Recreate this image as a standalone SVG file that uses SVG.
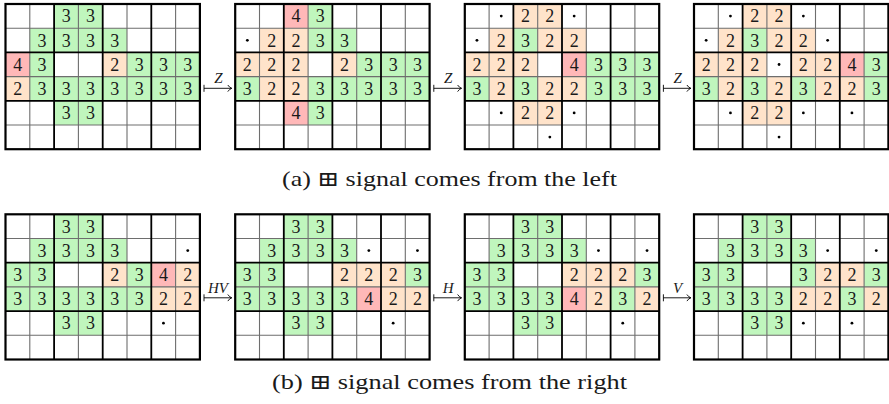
<svg xmlns="http://www.w3.org/2000/svg" xmlns:xlink="http://www.w3.org/1999/xlink" width="889" height="404" viewBox="0 0 889 404" font-family="'Liberation Serif', 'Times New Roman', 'DejaVu Serif', serif">
<style>
text{font-family:'Liberation Serif','Times New Roman','DejaVu Serif',serif;fill:#1a1a1a}
.n text{font-size:18px;text-anchor:middle}
.thin{fill:none;stroke:#6e6e6e;stroke-width:1.1}
.thick{fill:none;stroke:#000;stroke-width:1.8}
.bd{fill:none;stroke:#000;stroke-width:2.2}
.lbl{font-size:15px;font-style:italic;text-anchor:middle}
.cap{font-size:21px;text-anchor:middle}
.arr{fill:none;stroke:#000;stroke-width:0.9}
.dot{fill:#000}
</style>
<defs>
<rect id="G" width="24.3" height="24.2" fill="#c0f6bd"/>
<rect id="O" width="24.3" height="24.2" fill="#ffe3ca"/>
<rect id="R" width="24.3" height="24.2" fill="#ffb8b8"/>
<g id="L">
<path class="thin" d="M24.3,0V145.2M72.9,0V145.2M121.5,0V145.2M170.1,0V145.2M0,24.2H194.4M0,72.6H194.4M0,121H194.4"/>
<path class="thick" d="M48.6,0V145.2M97.2,0V145.2M145.8,0V145.2M0,48.4H194.4M0,96.8H194.4"/>
<rect class="bd" x="0" y="0" width="194.4" height="145.2"/>
</g>
</defs>

<g id="grid-a1" class="n" transform="translate(5.5,4)">
<use href="#G" x="48.6" y="0"/><use href="#G" x="72.9" y="0"/>
<use href="#G" x="24.3" y="24.2"/><use href="#G" x="48.6" y="24.2"/><use href="#G" x="72.9" y="24.2"/><use href="#G" x="97.2" y="24.2"/>
<use href="#R" x="0" y="48.4"/><use href="#G" x="24.3" y="48.4"/><use href="#O" x="97.2" y="48.4"/><use href="#G" x="121.5" y="48.4"/><use href="#G" x="145.8" y="48.4"/><use href="#G" x="170.1" y="48.4"/>
<use href="#O" x="0" y="72.6"/><use href="#G" x="24.3" y="72.6"/><use href="#G" x="48.6" y="72.6"/><use href="#G" x="72.9" y="72.6"/><use href="#G" x="97.2" y="72.6"/><use href="#G" x="121.5" y="72.6"/><use href="#G" x="145.8" y="72.6"/><use href="#G" x="170.1" y="72.6"/>
<use href="#G" x="48.6" y="96.8"/><use href="#G" x="72.9" y="96.8"/>
<use href="#L"/>
<text x="60.75" y="18.4">3</text><text x="85.05" y="18.4">3</text>
<text x="36.45" y="42.6">3</text><text x="60.75" y="42.6">3</text><text x="85.05" y="42.6">3</text><text x="109.35" y="42.6">3</text>
<text x="12.15" y="66.8">4</text><text x="36.45" y="66.8">3</text><text x="109.35" y="66.8">2</text><text x="133.65" y="66.8">3</text><text x="157.95" y="66.8">3</text><text x="182.25" y="66.8">3</text>
<text x="12.15" y="91">2</text><text x="36.45" y="91">3</text><text x="60.75" y="91">3</text><text x="85.05" y="91">3</text><text x="109.35" y="91">3</text><text x="133.65" y="91">3</text><text x="157.95" y="91">3</text><text x="182.25" y="91">3</text>
<text x="60.75" y="115.2">3</text><text x="85.05" y="115.2">3</text>
</g>

<g id="grid-a2" class="n" transform="translate(235.2,4)">
<use href="#R" x="48.6" y="0"/><use href="#G" x="72.9" y="0"/>
<use href="#O" x="24.3" y="24.2"/><use href="#O" x="48.6" y="24.2"/><use href="#G" x="72.9" y="24.2"/><use href="#G" x="97.2" y="24.2"/>
<use href="#O" x="0" y="48.4"/><use href="#O" x="24.3" y="48.4"/><use href="#O" x="48.6" y="48.4"/><use href="#O" x="97.2" y="48.4"/><use href="#G" x="121.5" y="48.4"/><use href="#G" x="145.8" y="48.4"/><use href="#G" x="170.1" y="48.4"/>
<use href="#G" x="0" y="72.6"/><use href="#O" x="24.3" y="72.6"/><use href="#O" x="48.6" y="72.6"/><use href="#G" x="72.9" y="72.6"/><use href="#G" x="97.2" y="72.6"/><use href="#G" x="121.5" y="72.6"/><use href="#G" x="145.8" y="72.6"/><use href="#G" x="170.1" y="72.6"/>
<use href="#R" x="48.6" y="96.8"/><use href="#G" x="72.9" y="96.8"/>
<use href="#L"/>
<circle class="dot" cx="12.15" cy="36.3" r="1.4"/>
<text x="60.75" y="18.4">4</text><text x="85.05" y="18.4">3</text>
<text x="36.45" y="42.6">2</text><text x="60.75" y="42.6">2</text><text x="85.05" y="42.6">3</text><text x="109.35" y="42.6">3</text>
<text x="12.15" y="66.8">2</text><text x="36.45" y="66.8">2</text><text x="60.75" y="66.8">2</text><text x="109.35" y="66.8">2</text><text x="133.65" y="66.8">3</text><text x="157.95" y="66.8">3</text><text x="182.25" y="66.8">3</text>
<text x="12.15" y="91">3</text><text x="36.45" y="91">2</text><text x="60.75" y="91">2</text><text x="85.05" y="91">3</text><text x="109.35" y="91">3</text><text x="133.65" y="91">3</text><text x="157.95" y="91">3</text><text x="182.25" y="91">3</text>
<text x="60.75" y="115.2">4</text><text x="85.05" y="115.2">3</text>
</g>

<g id="grid-a3" class="n" transform="translate(464.8,4)">
<use href="#O" x="48.6" y="0"/><use href="#O" x="72.9" y="0"/>
<use href="#O" x="24.3" y="24.2"/><use href="#G" x="48.6" y="24.2"/><use href="#O" x="72.9" y="24.2"/><use href="#O" x="97.2" y="24.2"/>
<use href="#O" x="0" y="48.4"/><use href="#O" x="24.3" y="48.4"/><use href="#O" x="48.6" y="48.4"/><use href="#R" x="97.2" y="48.4"/><use href="#G" x="121.5" y="48.4"/><use href="#G" x="145.8" y="48.4"/><use href="#G" x="170.1" y="48.4"/>
<use href="#G" x="0" y="72.6"/><use href="#O" x="24.3" y="72.6"/><use href="#G" x="48.6" y="72.6"/><use href="#O" x="72.9" y="72.6"/><use href="#O" x="97.2" y="72.6"/><use href="#G" x="121.5" y="72.6"/><use href="#G" x="145.8" y="72.6"/><use href="#G" x="170.1" y="72.6"/>
<use href="#O" x="48.6" y="96.8"/><use href="#O" x="72.9" y="96.8"/>
<use href="#L"/>
<circle class="dot" cx="36.45" cy="12.1" r="1.4"/><circle class="dot" cx="109.35" cy="12.1" r="1.4"/>
<circle class="dot" cx="12.15" cy="36.3" r="1.4"/>
<circle class="dot" cx="36.45" cy="108.9" r="1.4"/><circle class="dot" cx="109.35" cy="108.9" r="1.4"/>
<circle class="dot" cx="85.05" cy="133.1" r="1.4"/>
<text x="60.75" y="18.4">2</text><text x="85.05" y="18.4">2</text>
<text x="36.45" y="42.6">2</text><text x="60.75" y="42.6">3</text><text x="85.05" y="42.6">2</text><text x="109.35" y="42.6">2</text>
<text x="12.15" y="66.8">2</text><text x="36.45" y="66.8">2</text><text x="60.75" y="66.8">2</text><text x="109.35" y="66.8">4</text><text x="133.65" y="66.8">3</text><text x="157.95" y="66.8">3</text><text x="182.25" y="66.8">3</text>
<text x="12.15" y="91">3</text><text x="36.45" y="91">2</text><text x="60.75" y="91">3</text><text x="85.05" y="91">2</text><text x="109.35" y="91">2</text><text x="133.65" y="91">3</text><text x="157.95" y="91">3</text><text x="182.25" y="91">3</text>
<text x="60.75" y="115.2">2</text><text x="85.05" y="115.2">2</text>
</g>

<g id="grid-a4" class="n" transform="translate(694,4)">
<use href="#O" x="48.6" y="0"/><use href="#O" x="72.9" y="0"/>
<use href="#O" x="24.3" y="24.2"/><use href="#G" x="48.6" y="24.2"/><use href="#O" x="72.9" y="24.2"/><use href="#O" x="97.2" y="24.2"/>
<use href="#O" x="0" y="48.4"/><use href="#O" x="24.3" y="48.4"/><use href="#O" x="48.6" y="48.4"/><use href="#O" x="97.2" y="48.4"/><use href="#O" x="121.5" y="48.4"/><use href="#R" x="145.8" y="48.4"/><use href="#G" x="170.1" y="48.4"/>
<use href="#G" x="0" y="72.6"/><use href="#O" x="24.3" y="72.6"/><use href="#G" x="48.6" y="72.6"/><use href="#O" x="72.9" y="72.6"/><use href="#G" x="97.2" y="72.6"/><use href="#O" x="121.5" y="72.6"/><use href="#O" x="145.8" y="72.6"/><use href="#G" x="170.1" y="72.6"/>
<use href="#O" x="48.6" y="96.8"/><use href="#O" x="72.9" y="96.8"/>
<use href="#L"/>
<circle class="dot" cx="36.45" cy="12.1" r="1.4"/><circle class="dot" cx="109.35" cy="12.1" r="1.4"/>
<circle class="dot" cx="12.15" cy="36.3" r="1.4"/><circle class="dot" cx="133.65" cy="36.3" r="1.4"/>
<circle class="dot" cx="85.05" cy="60.5" r="1.4"/>
<circle class="dot" cx="36.45" cy="108.9" r="1.4"/><circle class="dot" cx="109.35" cy="108.9" r="1.4"/><circle class="dot" cx="157.95" cy="108.9" r="1.4"/>
<circle class="dot" cx="85.05" cy="133.1" r="1.4"/>
<text x="60.75" y="18.4">2</text><text x="85.05" y="18.4">2</text>
<text x="36.45" y="42.6">2</text><text x="60.75" y="42.6">3</text><text x="85.05" y="42.6">2</text><text x="109.35" y="42.6">2</text>
<text x="12.15" y="66.8">2</text><text x="36.45" y="66.8">2</text><text x="60.75" y="66.8">2</text><text x="109.35" y="66.8">2</text><text x="133.65" y="66.8">2</text><text x="157.95" y="66.8">4</text><text x="182.25" y="66.8">3</text>
<text x="12.15" y="91">3</text><text x="36.45" y="91">2</text><text x="60.75" y="91">3</text><text x="85.05" y="91">2</text><text x="109.35" y="91">3</text><text x="133.65" y="91">2</text><text x="157.95" y="91">2</text><text x="182.25" y="91">3</text>
<text x="60.75" y="115.2">2</text><text x="85.05" y="115.2">2</text>
</g>

<g id="grid-b1" class="n" transform="translate(5.5,214.3)">
<use href="#G" x="48.6" y="0"/><use href="#G" x="72.9" y="0"/>
<use href="#G" x="24.3" y="24.2"/><use href="#G" x="48.6" y="24.2"/><use href="#G" x="72.9" y="24.2"/><use href="#G" x="97.2" y="24.2"/>
<use href="#G" x="0" y="48.4"/><use href="#G" x="24.3" y="48.4"/><use href="#O" x="97.2" y="48.4"/><use href="#G" x="121.5" y="48.4"/><use href="#R" x="145.8" y="48.4"/><use href="#O" x="170.1" y="48.4"/>
<use href="#G" x="0" y="72.6"/><use href="#G" x="24.3" y="72.6"/><use href="#G" x="48.6" y="72.6"/><use href="#G" x="72.9" y="72.6"/><use href="#G" x="97.2" y="72.6"/><use href="#G" x="121.5" y="72.6"/><use href="#O" x="145.8" y="72.6"/><use href="#O" x="170.1" y="72.6"/>
<use href="#G" x="48.6" y="96.8"/><use href="#G" x="72.9" y="96.8"/>
<use href="#L"/>
<circle class="dot" cx="182.25" cy="36.3" r="1.4"/>
<circle class="dot" cx="157.95" cy="108.9" r="1.4"/>
<text x="60.75" y="18.4">3</text><text x="85.05" y="18.4">3</text>
<text x="36.45" y="42.6">3</text><text x="60.75" y="42.6">3</text><text x="85.05" y="42.6">3</text><text x="109.35" y="42.6">3</text>
<text x="12.15" y="66.8">3</text><text x="36.45" y="66.8">3</text><text x="109.35" y="66.8">2</text><text x="133.65" y="66.8">3</text><text x="157.95" y="66.8">4</text><text x="182.25" y="66.8">2</text>
<text x="12.15" y="91">3</text><text x="36.45" y="91">3</text><text x="60.75" y="91">3</text><text x="85.05" y="91">3</text><text x="109.35" y="91">3</text><text x="133.65" y="91">3</text><text x="157.95" y="91">2</text><text x="182.25" y="91">2</text>
<text x="60.75" y="115.2">3</text><text x="85.05" y="115.2">3</text>
</g>

<g id="grid-b2" class="n" transform="translate(235.2,214.3)">
<use href="#G" x="48.6" y="0"/><use href="#G" x="72.9" y="0"/>
<use href="#G" x="24.3" y="24.2"/><use href="#G" x="48.6" y="24.2"/><use href="#G" x="72.9" y="24.2"/><use href="#G" x="97.2" y="24.2"/>
<use href="#G" x="0" y="48.4"/><use href="#G" x="24.3" y="48.4"/><use href="#O" x="97.2" y="48.4"/><use href="#O" x="121.5" y="48.4"/><use href="#O" x="145.8" y="48.4"/><use href="#G" x="170.1" y="48.4"/>
<use href="#G" x="0" y="72.6"/><use href="#G" x="24.3" y="72.6"/><use href="#G" x="48.6" y="72.6"/><use href="#G" x="72.9" y="72.6"/><use href="#G" x="97.2" y="72.6"/><use href="#R" x="121.5" y="72.6"/><use href="#O" x="145.8" y="72.6"/><use href="#O" x="170.1" y="72.6"/>
<use href="#G" x="48.6" y="96.8"/><use href="#G" x="72.9" y="96.8"/>
<use href="#L"/>
<circle class="dot" cx="133.65" cy="36.3" r="1.4"/><circle class="dot" cx="182.25" cy="36.3" r="1.4"/>
<circle class="dot" cx="157.95" cy="108.9" r="1.4"/>
<text x="60.75" y="18.4">3</text><text x="85.05" y="18.4">3</text>
<text x="36.45" y="42.6">3</text><text x="60.75" y="42.6">3</text><text x="85.05" y="42.6">3</text><text x="109.35" y="42.6">3</text>
<text x="12.15" y="66.8">3</text><text x="36.45" y="66.8">3</text><text x="109.35" y="66.8">2</text><text x="133.65" y="66.8">2</text><text x="157.95" y="66.8">2</text><text x="182.25" y="66.8">3</text>
<text x="12.15" y="91">3</text><text x="36.45" y="91">3</text><text x="60.75" y="91">3</text><text x="85.05" y="91">3</text><text x="109.35" y="91">3</text><text x="133.65" y="91">4</text><text x="157.95" y="91">2</text><text x="182.25" y="91">2</text>
<text x="60.75" y="115.2">3</text><text x="85.05" y="115.2">3</text>
</g>

<g id="grid-b3" class="n" transform="translate(464.8,214.3)">
<use href="#G" x="48.6" y="0"/><use href="#G" x="72.9" y="0"/>
<use href="#G" x="24.3" y="24.2"/><use href="#G" x="48.6" y="24.2"/><use href="#G" x="72.9" y="24.2"/><use href="#G" x="97.2" y="24.2"/>
<use href="#G" x="0" y="48.4"/><use href="#G" x="24.3" y="48.4"/><use href="#O" x="97.2" y="48.4"/><use href="#O" x="121.5" y="48.4"/><use href="#O" x="145.8" y="48.4"/><use href="#G" x="170.1" y="48.4"/>
<use href="#G" x="0" y="72.6"/><use href="#G" x="24.3" y="72.6"/><use href="#G" x="48.6" y="72.6"/><use href="#G" x="72.9" y="72.6"/><use href="#R" x="97.2" y="72.6"/><use href="#O" x="121.5" y="72.6"/><use href="#G" x="145.8" y="72.6"/><use href="#O" x="170.1" y="72.6"/>
<use href="#G" x="48.6" y="96.8"/><use href="#G" x="72.9" y="96.8"/>
<use href="#L"/>
<circle class="dot" cx="133.65" cy="36.3" r="1.4"/><circle class="dot" cx="182.25" cy="36.3" r="1.4"/>
<circle class="dot" cx="157.95" cy="108.9" r="1.4"/>
<text x="60.75" y="18.4">3</text><text x="85.05" y="18.4">3</text>
<text x="36.45" y="42.6">3</text><text x="60.75" y="42.6">3</text><text x="85.05" y="42.6">3</text><text x="109.35" y="42.6">3</text>
<text x="12.15" y="66.8">3</text><text x="36.45" y="66.8">3</text><text x="109.35" y="66.8">2</text><text x="133.65" y="66.8">2</text><text x="157.95" y="66.8">2</text><text x="182.25" y="66.8">3</text>
<text x="12.15" y="91">3</text><text x="36.45" y="91">3</text><text x="60.75" y="91">3</text><text x="85.05" y="91">3</text><text x="109.35" y="91">4</text><text x="133.65" y="91">2</text><text x="157.95" y="91">3</text><text x="182.25" y="91">2</text>
<text x="60.75" y="115.2">3</text><text x="85.05" y="115.2">3</text>
</g>

<g id="grid-b4" class="n" transform="translate(694,214.3)">
<use href="#G" x="48.6" y="0"/><use href="#G" x="72.9" y="0"/>
<use href="#G" x="24.3" y="24.2"/><use href="#G" x="48.6" y="24.2"/><use href="#G" x="72.9" y="24.2"/><use href="#G" x="97.2" y="24.2"/>
<use href="#G" x="0" y="48.4"/><use href="#G" x="24.3" y="48.4"/><use href="#G" x="97.2" y="48.4"/><use href="#O" x="121.5" y="48.4"/><use href="#O" x="145.8" y="48.4"/><use href="#G" x="170.1" y="48.4"/>
<use href="#G" x="0" y="72.6"/><use href="#G" x="24.3" y="72.6"/><use href="#G" x="48.6" y="72.6"/><use href="#G" x="72.9" y="72.6"/><use href="#O" x="97.2" y="72.6"/><use href="#O" x="121.5" y="72.6"/><use href="#G" x="145.8" y="72.6"/><use href="#O" x="170.1" y="72.6"/>
<use href="#G" x="48.6" y="96.8"/><use href="#G" x="72.9" y="96.8"/>
<use href="#L"/>
<circle class="dot" cx="133.65" cy="36.3" r="1.4"/><circle class="dot" cx="182.25" cy="36.3" r="1.4"/>
<circle class="dot" cx="109.35" cy="108.9" r="1.4"/><circle class="dot" cx="157.95" cy="108.9" r="1.4"/>
<text x="60.75" y="18.4">3</text><text x="85.05" y="18.4">3</text>
<text x="36.45" y="42.6">3</text><text x="60.75" y="42.6">3</text><text x="85.05" y="42.6">3</text><text x="109.35" y="42.6">3</text>
<text x="12.15" y="66.8">3</text><text x="36.45" y="66.8">3</text><text x="109.35" y="66.8">3</text><text x="133.65" y="66.8">2</text><text x="157.95" y="66.8">2</text><text x="182.25" y="66.8">3</text>
<text x="12.15" y="91">3</text><text x="36.45" y="91">3</text><text x="60.75" y="91">3</text><text x="85.05" y="91">3</text><text x="109.35" y="91">2</text><text x="133.65" y="91">2</text><text x="157.95" y="91">3</text><text x="182.25" y="91">2</text>
<text x="60.75" y="115.2">3</text><text x="85.05" y="115.2">3</text>
</g>

<g id="connectors">
<path class="arr" d="M204,84.8V91.8M204,88.3H231.5M227.8,85Q229.6,87.7 231.8,88.3Q229.6,88.9 227.8,91.6"/>
<path class="arr" d="M433.8,84.8V91.8M433.8,88.3H461.3M457.6,85Q459.4,87.7 461.6,88.3Q459.4,88.9 457.6,91.6"/>
<path class="arr" d="M663.4,84.8V91.8M663.4,88.3H690.6M686.9,85Q688.7,87.7 690.9,88.3Q688.7,88.9 686.9,91.6"/>
<path class="arr" d="M204,294.3V301.3M204,297.8H231.5M227.8,294.5Q229.6,297.2 231.8,297.8Q229.6,298.4 227.8,301.1"/>
<path class="arr" d="M433.8,294.3V301.3M433.8,297.8H461.3M457.6,294.5Q459.4,297.2 461.6,297.8Q459.4,298.4 457.6,301.1"/>
<path class="arr" d="M663.4,294.3V301.3M663.4,297.8H690.6M686.9,294.5Q688.7,297.2 690.9,297.8Q688.7,298.4 686.9,301.1"/>
<text class="lbl" x="218.5" y="83">Z</text>
<text class="lbl" x="448.2" y="83">Z</text>
<text class="lbl" x="677.6" y="83">Z</text>
<text class="lbl" x="218" y="292.5">HV</text>
<text class="lbl" x="448.2" y="292.5">H</text>
<text class="lbl" x="677.6" y="292.5">V</text>
</g>

<text class="cap" x="449.5" y="186" textLength="335" lengthAdjust="spacingAndGlyphs">(a) ⊞ signal comes from the left</text>
<text class="cap" x="449.5" y="388.5" textLength="355" lengthAdjust="spacingAndGlyphs">(b) ⊞ signal comes from the right</text>
</svg>
